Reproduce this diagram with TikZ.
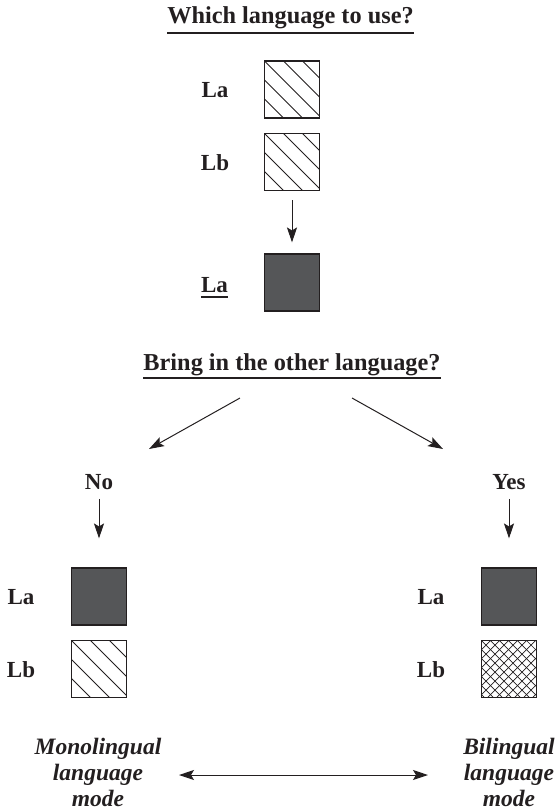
\documentclass[tikz,border=0pt]{standalone}
\usepackage{fontspec}
\setmainfont{Liberation Serif}
\usetikzlibrary{arrows.meta,calc}
\definecolor{ink}{RGB}{35,31,32}
\definecolor{boxfill}{RGB}{85,86,88}
\tikzset{
  lbl/.style={font=\fontsize{23}{26}\selectfont\bfseries, text=ink, inner sep=0pt},
  heading/.style={font=\fontsize{24.3}{28}\selectfont\bfseries, text=ink, inner sep=0pt},
  modetext/.style={font=\fontsize{23.5}{26}\selectfont\bfseries\itshape, text=ink, inner sep=0pt, align=center},
  langbox/.style={draw=ink, line width=1.1pt, minimum width=55pt, minimum height=57pt, inner sep=0pt},
  solidbox/.style={langbox, fill=boxfill},
  hatchbox/.style={langbox, path picture={
      \foreach \d in {-38,-19,0,19,38}{
        \draw[ink, line width=0.8pt] ($(path picture bounding box.north west)+(\d pt,0pt)$) -- ++(80pt,-80pt);}}},
  crossbox/.style={langbox, path picture={
      \foreach \d in {-63,-54,...,63}{
        \draw[ink, line width=0.7pt] ($(path picture bounding box.north west)+(\d pt,0pt)$) -- ++(80pt,-80pt);}
      \foreach \d in {0,9,...,126}{
        \draw[ink, line width=0.7pt] ($(path picture bounding box.north west)+(\d pt,0pt)$) -- ++(-80pt,-80pt);}}},
  arr/.style={draw=ink, line width=1pt, -{Stealth[length=15pt,width=10pt,inset=3pt]}},
  dblarr/.style={draw=ink, line width=1pt, {Stealth[length=15pt,width=10pt,inset=3pt]}-{Stealth[length=15pt,width=10pt,inset=3pt]}},
  uline/.style={draw=ink, line width=2pt}
}
\begin{document}
\begin{tikzpicture}[x=1pt, y=-1pt]
  \useasboundingbox (0,0) rectangle (556,812);

  % first question
  \node[heading, anchor=base] (q1) at (290.5,23) {Which language to use?};
  \draw[uline] ($(q1.base west)+(0,10)$) -- ($(q1.base east)+(0,10)$);

  \node[hatchbox] (ta) at (292,89.5) {};
  \node[hatchbox] (tb) at (292,162) {};
  \node[lbl] (tla) at (215,90.5) {La};
  \node[lbl] (tlb) at (215,163) {Lb};

  \node[solidbox] (tc) at (292,282.5) {};
  \node[lbl, anchor=base] (tlc) at (214.5,292) {La};
  \draw[uline] ($(tlc.base west)+(0,5)$) -- ($(tlc.base east)+(0,5)$);

  \draw[arr, shorten <=9pt, shorten >=11pt] (tb) -- (tc);

  % second question
  \node[heading, anchor=base] (q2) at (292,370) {Bring in the other language?};
  \draw[uline] ($(q2.base west)+(0,8)$) -- ($(q2.base east)+(0,8)$);

  \node[lbl] (no) at (99,482) {No};
  \node[lbl] (yes) at (509,482) {Yes};

  \coordinate (ls) at (240,398);
  \coordinate (le) at (149,449);
  \coordinate (rs) at (352,398);
  \coordinate (re) at (443,449);
  \draw[arr] (ls) -- (le);
  \draw[arr] (rs) -- (re);

  % monolingual branch
  \node[solidbox] (ma) at (99,596.5) {};
  \node[hatchbox] (mb) at (99,669) {};
  \node[lbl] (mla) at (21,597.5) {La};
  \node[lbl] (mlb) at (21,670) {Lb};
  \draw[arr, shorten <=9pt, shorten >=29pt] (no) -- (ma);

  % bilingual branch
  \node[solidbox] (ba) at (509,596.5) {};
  \node[crossbox] (bb) at (509,669) {};
  \node[lbl] (bla) at (431,597.5) {La};
  \node[lbl] (blb) at (431,670) {Lb};
  \draw[arr, shorten <=9pt, shorten >=29pt] (yes) -- (ba);

  % language modes
  \node[modetext, anchor=base] (mono) at (98,806) {Monolingual\\language\\mode};
  \node[modetext, anchor=base] (bil) at (509,806) {Bilingual\\language\\mode};
  \coordinate (dl) at (179,775);
  \coordinate (dr) at (428,775);
  \draw[dblarr] (dl) -- (dr);
\end{tikzpicture}
\end{document}
